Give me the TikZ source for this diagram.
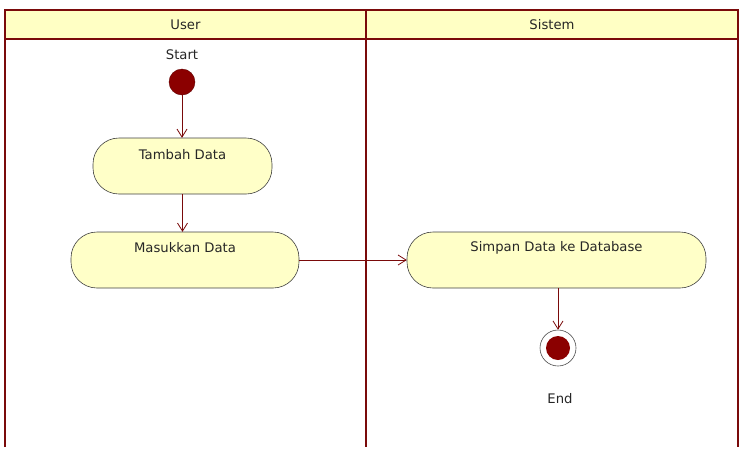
\documentclass[tikz,border=0pt]{standalone}
\usepackage{fontspec}
\setmainfont{DejaVu Sans}
\usetikzlibrary{arrows.meta}
\definecolor{lane}{HTML}{7A0A0A}
\definecolor{hdr}{HTML}{FFFFC4}
\definecolor{act}{HTML}{FFFFC8}
\definecolor{dot}{HTML}{8B0000}
\begin{document}
\begin{tikzpicture}[x=1pt,y=-1pt,
  lanebox/.style={draw=lane,line width=2.2pt},
  hdrtext/.style={font=\fontsize{13.2}{15}\selectfont,text=black!85},
  action/.style={draw=black!75,fill=act,rounded corners=26pt,line width=0.6pt},
  acttext/.style={font=\fontsize{13.2}{15}\selectfont,text=black!85},
  flow/.style={draw=lane,line width=0.8pt,-{Straight Barb[length=8pt,width=10pt]}},
  lbl/.style={font=\fontsize{13.2}{15}\selectfont,text=black!85}]
\useasboundingbox (0,0) rectangle (745,456);
% swimlanes
\fill[hdr] (5,10) rectangle (738,39);
\draw[lanebox] (5,447) -- (5,10) -- (738,10) -- (738,447);
\draw[lanebox] (5,39) -- (738,39);
\draw[lanebox] (366,10) -- (366,447);
\node[hdrtext] (hUser) at (185.5,25) {User};
\node[hdrtext] (hSys) at (552,25) {Sistem};
% start
\node[lbl] (startlbl) at (182,55) {Start};
\node[circle,fill=dot,draw=dot!70!black,minimum size=26pt,inner sep=0pt] (start) at (182,82) {};
% actions
\draw[action] (93,138) rectangle (272,194);
\node[inner sep=0pt,minimum width=179pt,minimum height=56pt] (tambah) at (182.5,166) {};
\node[acttext] (tambahT) at (182.5,155) {Tambah Data};
\draw[action] (71,232) rectangle (299,288);
\node[inner sep=0pt,minimum width=228pt,minimum height=56pt] (masuk) at (185,260) {};
\node[acttext] (masukT) at (185,248) {Masukkan Data};
\draw[action] (407,232) rectangle (706,288);
\node[inner sep=0pt,minimum width=299pt,minimum height=56pt] (simpan) at (556.5,260) {};
\node[acttext] (simpanT) at (556.5,248) {Simpan Data ke Database};
% end
\node[circle,draw=black!70,fill=white,minimum size=36pt,inner sep=0pt,line width=0.6pt] (endn) at (558,348) {};
\node[circle,fill=dot,minimum size=24pt,inner sep=0pt] (endin) at (558,348) {};
\node[lbl] (endlbl) at (560,399) {End};
% flows
\draw[flow] (start.south) -- (start.south |- tambah.north);
\draw[flow] (tambah.south) -- (tambah.south |- masuk.north);
\draw[flow] (masuk.east) -- (simpan.west);
\draw[flow] (simpan.south -| endn.north) -- (endn.north);
\end{tikzpicture}
\end{document}
